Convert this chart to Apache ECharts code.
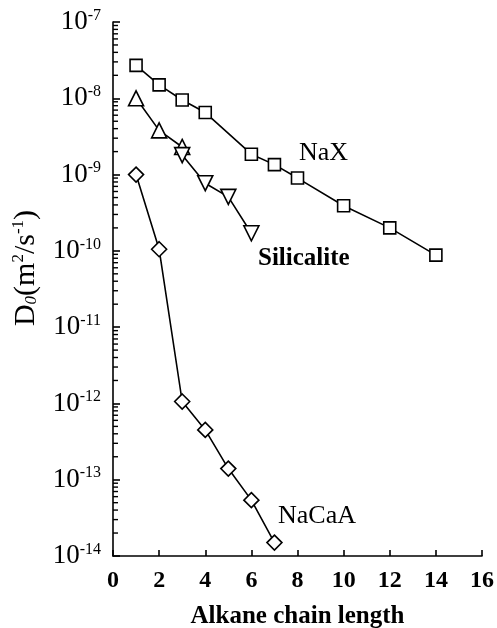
<!DOCTYPE html>
<html><head><meta charset="utf-8">
<script src="https://cdn.jsdelivr.net/npm/echarts@6/dist/echarts.min.js"></script>
<style>html,body{margin:0;padding:0;background:#fff}#c{width:497px;height:628px}</style>
</head><body><div id="c"></div>
<script>
// Data
const naxX = [1, 2, 3, 4, 6, 7, 8, 10, 12, 14];
const naxD = [2.7e-8, 1.5e-8, 9.5e-9, 6.5e-9, 1.85e-9, 1.35e-9, 9.0e-10, 3.9e-10, 2.0e-10, 8.8e-11];
const silX = [1, 2, 3, 3, 4, 5, 6];
const silD = [1.0e-8, 3.8e-9, 2.3e-9, 1.8e-9, 7.7e-10, 5.1e-10, 1.7e-10];
const silShape = ['up', 'up', 'up', 'down', 'down', 'down', 'down'];
const nacaaX = [1, 2, 3, 4, 5, 6, 7];
const nacaaD = [1.0e-9, 1.05e-10, 1.06e-12, 4.5e-13, 1.4e-13, 5.4e-14, 1.5e-14];
const xTicks = [0, 2, 4, 6, 8, 10, 12, 14, 16];
const yDecades = [-14, -13, -12, -11, -10, -9, -8, -7];
const seriesNames = ['NaX', 'Silicalite', 'NaCaA'];

const FONT = '"Liberation Serif","DejaVu Serif",serif';
// log minor tick positions (log10 of 2..9 x 10^n) for the y axis
const minorExp = [];
for (let i = 0; i < yDecades.length - 1; i++) {
  for (let k = 2; k <= 9; k++) minorExp.push([xTicks[0], yDecades[i] + Math.log10(k)]);
}

const chart = echarts.init(document.getElementById('c'), null, {renderer: 'canvas'});
const sym = {color: '#fff', borderColor: '#000', borderWidth: 1.6};
const line = {color: '#000', width: 1.6};

chart.setOption({
  animation: false,
  backgroundColor: '#fff',
  grid: {left: 113, right: 15, top: 22, bottom: 72, containLabel: false, outerBoundsMode: 'none'},
  xAxis: {
    type: 'value', min: xTicks[0], max: xTicks[xTicks.length - 1], interval: 2,
    axisLine: {lineStyle: {color: '#000', width: 1.6}},
    axisTick: {inside: true, length: 6, lineStyle: {color: '#000', width: 1.6}},
    splitLine: {show: false},
    axisLabel: {color: '#000', fontFamily: FONT, fontSize: 24, fontWeight: 'bold', margin: 13},
    name: 'Alkane chain length', nameLocation: 'middle', nameGap: 48,
    nameTextStyle: {color: '#000', fontFamily: FONT, fontSize: 25, fontWeight: 'bold'}
  },
  yAxis: [{
    type: 'log', logBase: 10,
    min: Math.pow(10, yDecades[0]), max: Math.pow(10, yDecades[yDecades.length - 1]),
    axisLine: {show: true, lineStyle: {color: '#000', width: 1.6}},
    axisTick: {show: true, inside: true, length: 7, lineStyle: {color: '#000', width: 1.6}},
    splitLine: {show: false},
    axisLabel: {
      margin: 12,
      formatter: function (v) {
        const e = Math.round(Math.log10(v));
        return '{b|10}{s|' + e + '}';
      },
      rich: {
        b: {color: '#000', fontFamily: FONT, fontSize: 27},
        s: {color: '#000', fontFamily: FONT, fontSize: 16, verticalAlign: 'top', padding: [0, 0, 13, 0]}
      }
    }
  }, {
    // helper axis in decade units, same extent, used only for minor log ticks
    type: 'value', position: 'left', show: false,
    min: yDecades[0], max: yDecades[yDecades.length - 1],
    axisLine: {show: false}, axisTick: {show: false}, axisLabel: {show: false}, splitLine: {show: false}
  }],
  graphic: [
    {type: 'text', x: 26, y: 268, rotation: Math.PI / 2,
      style: {
        text: '{d|D}{o|0}{d|(m}{s|2}{d|/s}{s|-1}{d|)}',
        align: 'center', verticalAlign: 'middle',
        rich: {
          d: {fill: '#000', fontFamily: FONT, fontSize: 30},
          o: {fill: '#000', fontFamily: FONT, fontSize: 17, fontStyle: 'italic', padding: [12, 0, 0, 0]},
          s: {fill: '#000', fontFamily: FONT, fontSize: 17, padding: [0, 0, 14, 0]}
        }
      }},
    {type: 'text', left: 325 - 26, top: 140, style: {text: seriesNames[0], font: '26px ' + FONT, fill: '#000'}},
    {type: 'text', left: 307 - 49, top: 246, style: {text: seriesNames[1], font: 'bold 25px ' + FONT, fill: '#000'}},
    {type: 'text', left: 318 - 40, top: 503, style: {text: seriesNames[2], font: '26px ' + FONT, fill: '#000'}}
  ],
  series: [
    {
      name: 'minorTicks', type: 'custom', yAxisIndex: 1, silent: true, z: 10,
      encode: {x: 0, y: 1},
      data: minorExp,
      renderItem: function (params, api) {
        const p = api.coord([api.value(0), api.value(1)]);
        return {type: 'rect', shape: {x: p[0], y: p[1] - 0.7, width: 5, height: 1.4},
          style: {fill: '#000'}};
      }
    },
    {
      name: seriesNames[0], type: 'line', symbol: 'rect', symbolSize: 12,
      data: naxX.map((x, i) => [x, naxD[i]]),
      lineStyle: line, itemStyle: sym
    },
    {
      name: seriesNames[1], type: 'line', symbol: 'triangle', symbolSize: 15,
      data: silX.map((x, i) => ({value: [x, silD[i]], symbolRotate: silShape[i] === 'down' ? 180 : 0})),
      lineStyle: line, itemStyle: sym
    },
    {
      name: seriesNames[2], type: 'line', symbol: 'diamond', symbolSize: 15,
      data: nacaaX.map((x, i) => [x, nacaaD[i]]),
      lineStyle: line, itemStyle: sym
    }
  ]
});
</script></body></html>
